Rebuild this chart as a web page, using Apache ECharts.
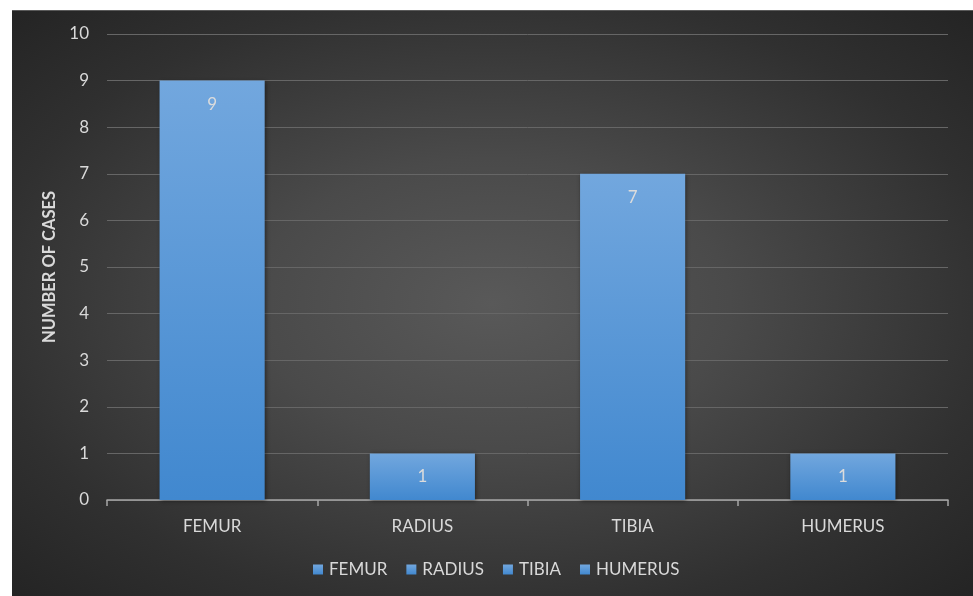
<!DOCTYPE html>
<html>
<head>
<meta charset="utf-8">
<script src="https://cdn.jsdelivr.net/npm/echarts@6/dist/echarts.min.js"></script>
<style>
  html, body { margin: 0; padding: 0; background: #ffffff; }
  #wrap { position: relative; width: 973px; height: 596px; overflow: hidden; }
  #bg {
    position: absolute; left: 12px; top: 10px; right: 0; bottom: 0;
    background: radial-gradient(ellipse at 50% 50%, #595959 0%, #4a4a4a 35%, #303030 75%, #242424 100%);
    border-top: 1px solid #5a5a5a;
  }
  #chart { position: absolute; left: 0; top: 0; width: 973px; height: 596px; }
</style>
</head>
<body>
<div id="wrap">
  <div id="bg"></div>
  <div id="chart"></div>
</div>
<script>
// Fracture site counts
const categories = ['FEMUR', 'RADIUS', 'TIBIA', 'HUMERUS'];
const cases = [9, 1, 7, 1];
const yTicks = { min: 0, max: 10, interval: 1 };

const textColor = '#d9d9d9';
const fontFamily = 'Lato, "Open Sans", sans-serif';

const barFill = new echarts.graphic.LinearGradient(0, 0, 0, 1, [
  { offset: 0, color: '#72a7de' },
  { offset: 1, color: '#4188cf' }
]);

// One series per bone so each gets its own legend entry; stacked so bars stay centred
const series = categories.map((name, i) => ({
  name: name,
  type: 'bar',
  stack: 'all',
  barWidth: '50%',
  data: categories.map((_, j) => (j === i ? cases[i] : null)),
  itemStyle: {
    color: barFill,
    shadowColor: 'rgba(0,0,0,0.45)',
    shadowBlur: 4,
    shadowOffsetX: 1,
    shadowOffsetY: 1
  },
  label: {
    show: true,
    position: 'insideTop',
    distance: 15,
    color: '#dcdcdc',
    fontSize: 17,
    fontFamily: fontFamily
  }
}));

const chart = echarts.init(document.getElementById('chart'), null, { renderer: 'canvas' });
chart.setOption({
  backgroundColor: 'transparent',
  animation: false,
  color: ['#5b9bd5', '#5b9bd5', '#5b9bd5', '#5b9bd5'],
  grid: { left: 107, right: 25, top: 34, bottom: 96, containLabel: false },
  legend: {
    bottom: 13,
    left: 308,
    itemWidth: 10,
    itemHeight: 10,
    itemGap: 19,
    icon: 'rect',
    textStyle: { color: textColor, fontSize: 17, fontFamily: fontFamily, padding: [0, 0, 0, 1] },
    data: categories
  },
  xAxis: {
    type: 'category',
    data: categories,
    boundaryGap: true,
    axisLine: { lineStyle: { color: '#a6a6a6', width: 1.5 } },
    axisTick: { show: true, alignWithLabel: false, length: 6, lineStyle: { color: '#a6a6a6', width: 1.5 } },
    axisLabel: { color: textColor, fontSize: 17, fontFamily: fontFamily, margin: 18 },
    splitLine: { show: false }
  },
  yAxis: {
    type: 'value',
    min: yTicks.min,
    max: yTicks.max,
    interval: yTicks.interval,
    name: 'NUMBER OF CASES',
    nameLocation: 'middle',
    nameGap: 45,
    nameTextStyle: { color: textColor, fontSize: 16.5, fontWeight: 'bold', fontFamily: fontFamily },
    axisLine: { show: false },
    axisTick: { show: false },
    axisLabel: { color: textColor, fontSize: 17, fontFamily: fontFamily, margin: 18 },
    splitLine: { lineStyle: { color: '#666666', width: 1 } }
  },
  series: series
});
</script>
</body>
</html>
